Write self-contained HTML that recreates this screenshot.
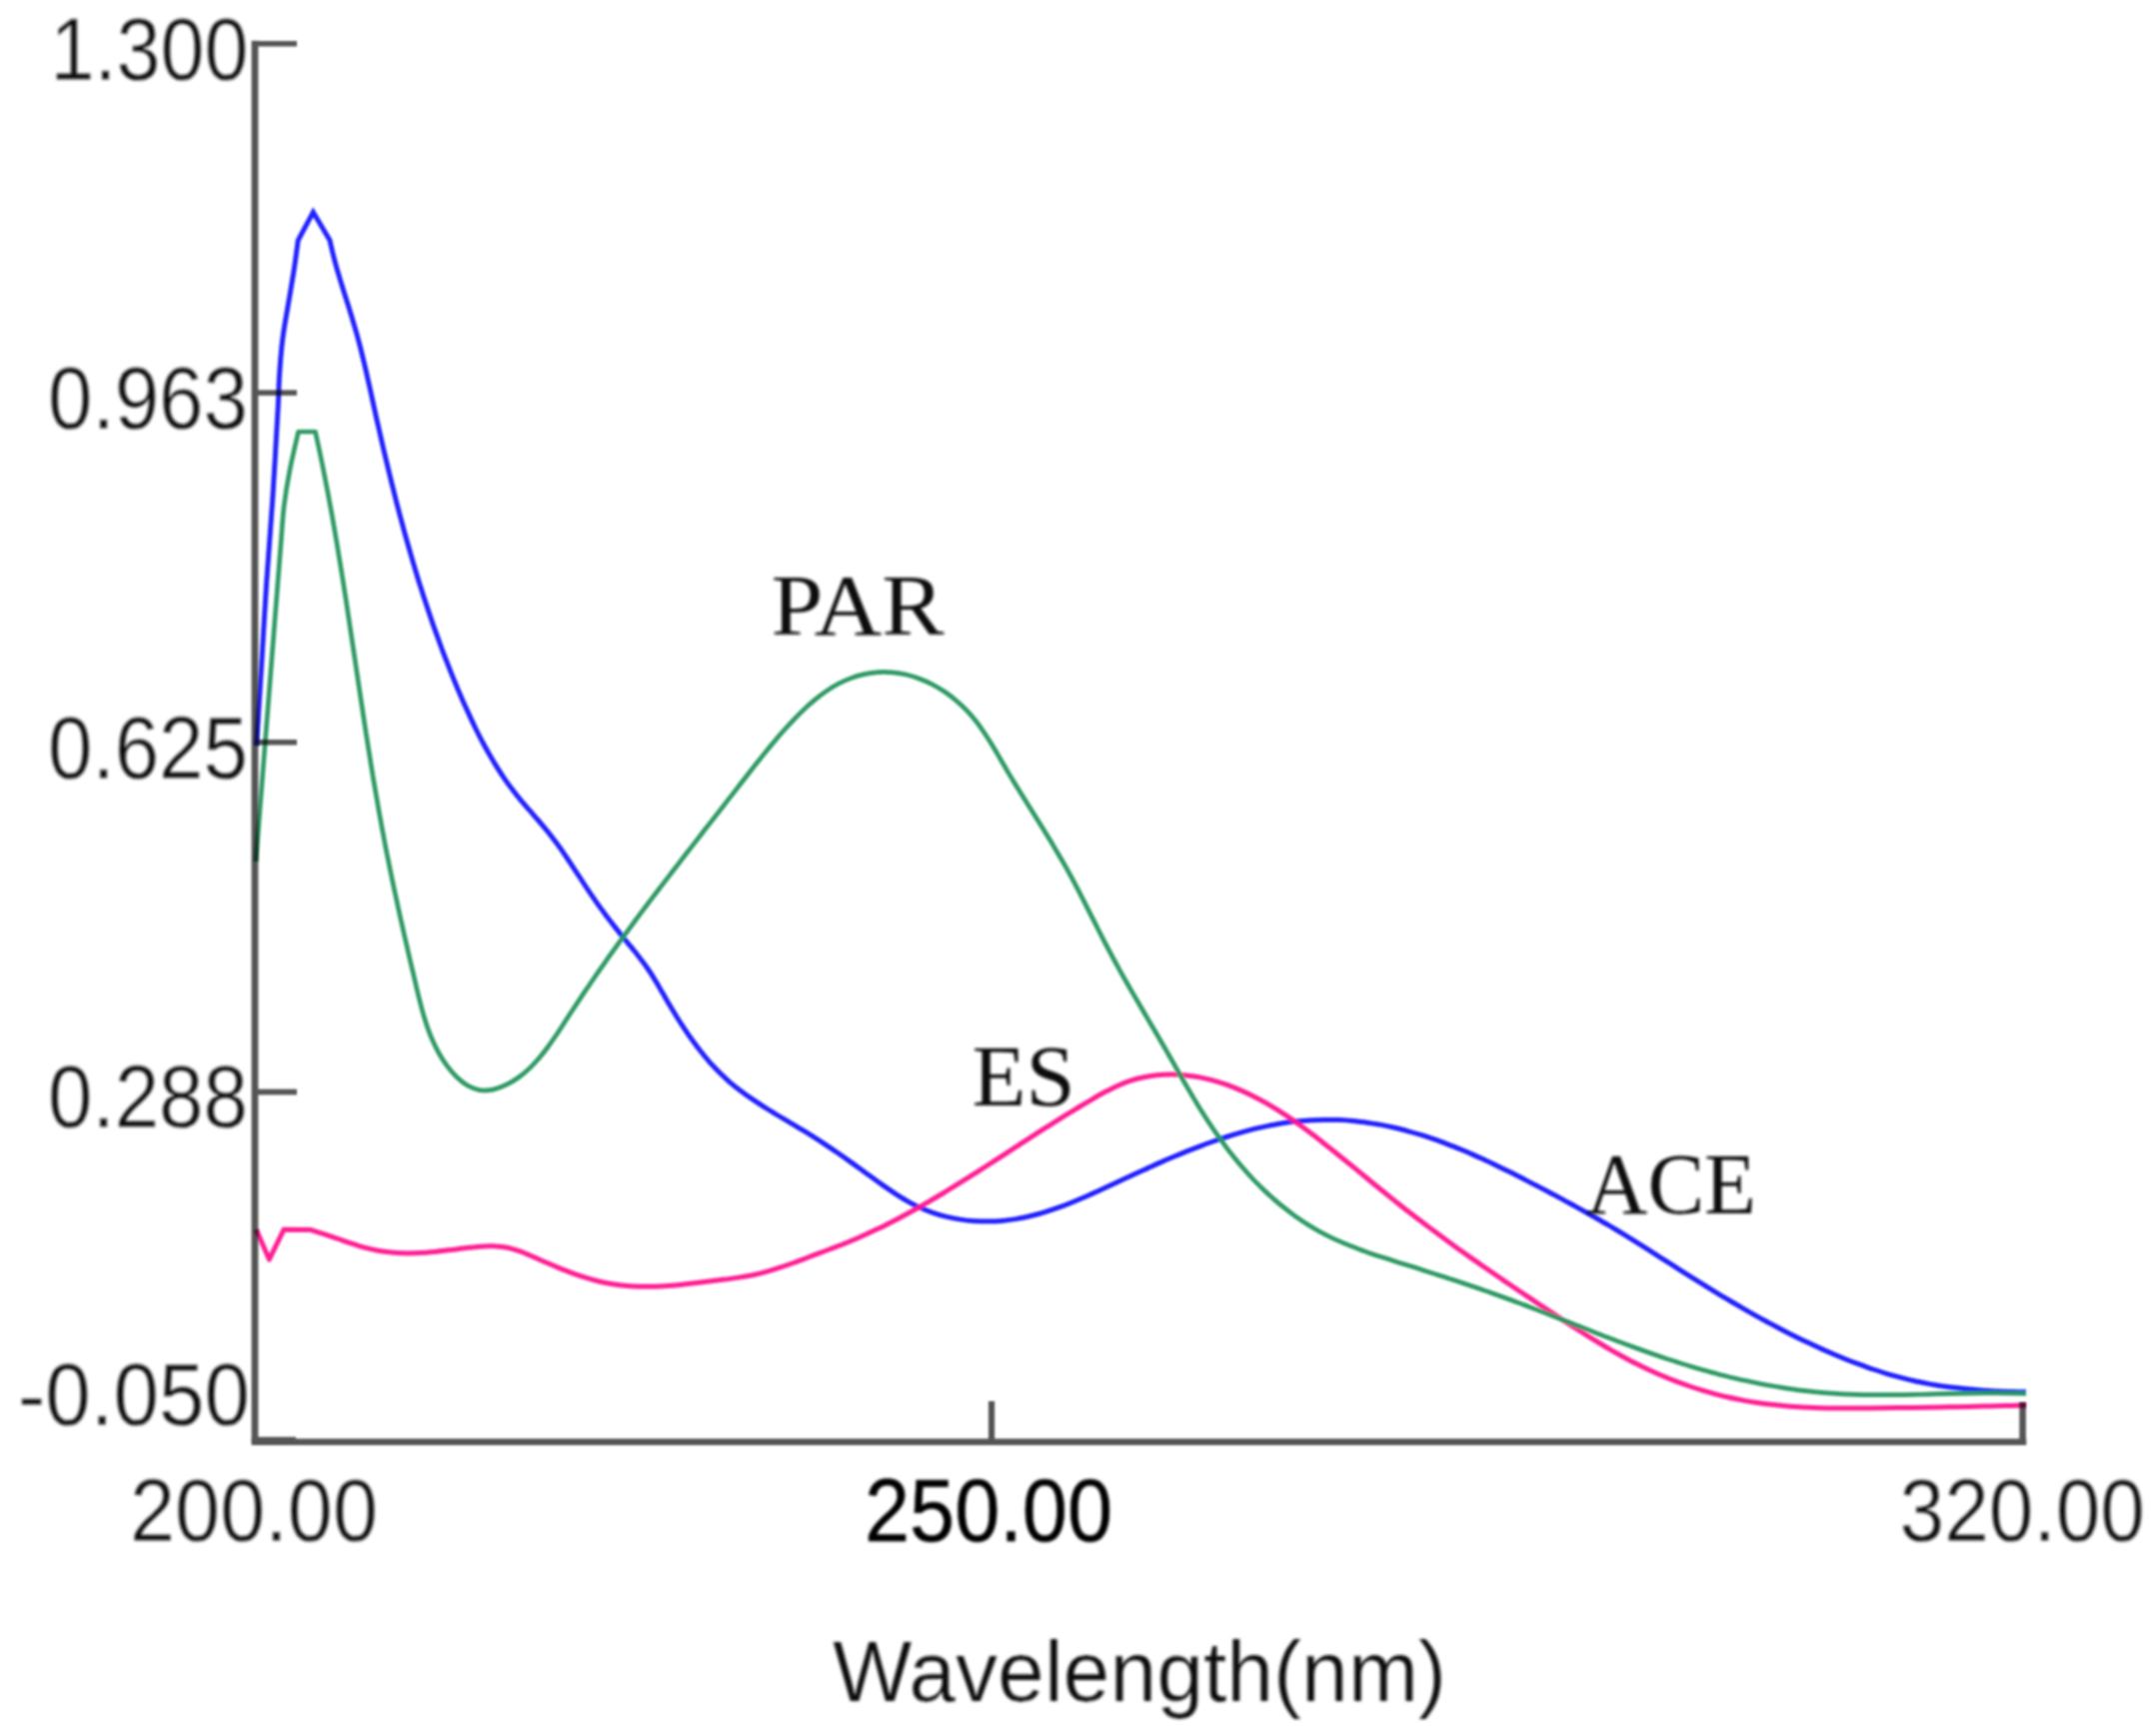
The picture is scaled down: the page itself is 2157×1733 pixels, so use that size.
<!DOCTYPE html>
<html lang="en"><head><meta charset="utf-8"><title>UV absorption spectra</title>
<style>html,body{margin:0;padding:0;background:#fff;}body{width:2157px;height:1733px;overflow:hidden;}svg{display:block;}</style></head>
<body>
<svg width="2157" height="1733" viewBox="0 0 2157 1733">
<defs><filter id="bt" x="-5%" y="-5%" width="110%" height="110%"><feGaussianBlur stdDeviation="1.35"/></filter><filter id="ba" x="-5%" y="-5%" width="110%" height="110%"><feGaussianBlur stdDeviation="1.15"/></filter><filter id="bc" x="-5%" y="-5%" width="110%" height="110%"><feGaussianBlur stdDeviation="1.1"/></filter></defs>
<rect width="2157" height="1733" fill="#fff"/>
<g filter="url(#bt)">
<text x="50.5" y="79.5" font-size="88.5" font-family="Liberation Sans, Arial, sans-serif" text-anchor="start" fill="#101010" textLength="198" lengthAdjust="spacingAndGlyphs" stroke="#fff" stroke-width="0.35" stroke-linejoin="round">1.300</text>
<text x="48" y="429" font-size="88.5" font-family="Liberation Sans, Arial, sans-serif" text-anchor="start" fill="#101010" textLength="200" lengthAdjust="spacingAndGlyphs" stroke="#fff" stroke-width="0.35" stroke-linejoin="round">0.963</text>
<text x="48" y="778.5" font-size="88.5" font-family="Liberation Sans, Arial, sans-serif" text-anchor="start" fill="#101010" textLength="200" lengthAdjust="spacingAndGlyphs" stroke="#fff" stroke-width="0.35" stroke-linejoin="round">0.625</text>
<text x="48" y="1127.5" font-size="88.5" font-family="Liberation Sans, Arial, sans-serif" text-anchor="start" fill="#101010" textLength="200" lengthAdjust="spacingAndGlyphs" stroke="#fff" stroke-width="0.35" stroke-linejoin="round">0.288</text>
<text x="18" y="1425.5" font-size="88.5" font-family="Liberation Sans, Arial, sans-serif" text-anchor="start" fill="#101010" textLength="232" lengthAdjust="spacingAndGlyphs" stroke="#fff" stroke-width="0.35" stroke-linejoin="round">-0.050</text>
<text x="130" y="1541.5" font-size="88.5" font-family="Liberation Sans, Arial, sans-serif" text-anchor="start" fill="#101010" textLength="248" lengthAdjust="spacingAndGlyphs" stroke="#fff" stroke-width="0.35" stroke-linejoin="round">200.00</text>
<text x="865" y="1541.5" font-size="88.5" font-family="Liberation Sans, Arial, sans-serif" text-anchor="start" fill="#000" textLength="248" lengthAdjust="spacingAndGlyphs" stroke="#000" stroke-width="0.5">250.00</text>
<text x="1900.5" y="1541.5" font-size="88.5" font-family="Liberation Sans, Arial, sans-serif" text-anchor="start" fill="#101010" textLength="245.5" lengthAdjust="spacingAndGlyphs" stroke="#fff" stroke-width="0.35" stroke-linejoin="round">320.00</text>
<text x="833" y="1701.5" font-size="84.5" font-family="Liberation Sans, Arial, sans-serif" text-anchor="start" fill="#111" textLength="614" lengthAdjust="spacingAndGlyphs" stroke="#fff" stroke-width="0.2">Wavelength(nm)</text>
<text x="771.5" y="634.5" font-size="87" font-family="Liberation Serif, Times New Roman, serif" text-anchor="start" fill="#111" textLength="173" lengthAdjust="spacingAndGlyphs">PAR</text>
<text x="972.5" y="1105.5" font-size="87" font-family="Liberation Serif, Times New Roman, serif" text-anchor="start" fill="#111" textLength="103" lengthAdjust="spacingAndGlyphs">ES</text>
<text x="1587" y="1213.5" font-size="87" font-family="Liberation Serif, Times New Roman, serif" text-anchor="start" fill="#111" textLength="170" lengthAdjust="spacingAndGlyphs">ACE</text>
</g>
<g filter="url(#ba)" stroke="#555555" stroke-width="5.6" fill="none" stroke-linecap="butt">
<path d="M255 40.8 V1443" stroke-width="6.8"/>
<path d="M251.6 1442.7 H2027.3" stroke-width="6.4"/>
<path d="M255 43.8 H297"/>
<path d="M255 393 H297"/>
<path d="M255 742.8 H297"/>
<path d="M255 1092.6 H297"/>
<path d="M255 1440.5 H296"/>
<path d="M992 1402 V1443" stroke-width="6.2"/>
<path d="M2023.6 1403 V1445.9" stroke-width="6.6"/>
</g>
<g filter="url(#bc)" style="mix-blend-mode:multiply">
<path d="M256.6 746.0 C257.5 731.7 260.3 687.0 262.0 660.0 C263.7 633.0 264.8 610.7 266.6 584.0 C268.4 557.3 270.8 529.5 272.7 500.0 C274.6 470.5 277.1 427.3 278.2 407.0 C279.3 386.7 278.7 389.1 279.4 378.0 C280.1 366.9 281.2 351.9 282.6 340.4 C284.0 328.9 285.7 320.5 287.6 309.0 C289.5 297.5 292.1 282.9 293.9 271.5 C295.7 260.1 297.5 245.7 298.2 240.5 L313.3 212.3 L330.0 240.5 C330.5 242.8 332.0 249.7 333.2 254.3 C334.3 258.9 335.6 263.4 336.8 268.0 C338.1 272.5 339.5 277.0 340.8 281.5 C342.2 286.1 343.6 290.6 345.0 295.1 C346.4 299.6 347.9 304.1 349.3 308.6 C350.7 313.2 352.1 317.7 353.4 322.2 C354.8 326.7 356.1 331.3 357.4 335.8 C358.6 340.4 359.8 344.9 361.0 349.5 C362.1 354.1 363.2 358.6 364.3 363.2 C365.4 367.8 366.5 372.4 367.5 377.0 C368.5 381.6 369.6 386.2 370.6 390.8 C371.6 395.4 372.6 400.0 373.6 404.6 C374.6 409.2 375.6 413.8 376.6 418.4 C377.7 423.0 378.7 427.6 379.8 432.2 C380.8 436.8 381.9 441.4 382.9 446.0 C384.0 450.7 385.1 455.3 386.2 459.8 C387.3 464.4 388.4 469.0 389.5 473.6 C390.6 478.2 391.7 482.8 392.9 487.4 C394.0 492.0 395.2 496.6 396.3 501.1 C397.5 505.7 398.7 510.3 399.9 514.9 C401.1 519.4 402.4 524.0 403.6 528.6 C404.8 533.1 406.1 537.7 407.4 542.2 C408.7 546.8 410.0 551.3 411.3 555.9 C412.6 560.4 413.9 564.9 415.3 569.4 C416.7 574.0 418.0 578.5 419.4 583.0 C420.9 587.5 422.3 592.0 423.7 596.5 C425.2 601.0 426.7 605.5 428.2 610.0 C429.7 614.4 431.2 618.9 432.7 623.4 C434.3 627.8 435.9 632.3 437.5 636.7 C439.1 641.2 440.7 645.6 442.3 650.0 C444.0 654.4 445.7 658.8 447.4 663.2 C449.1 667.6 450.9 672.0 452.6 676.4 C454.4 680.8 456.2 685.1 458.0 689.5 C459.9 693.8 461.7 698.2 463.6 702.5 C465.6 706.8 467.5 711.1 469.5 715.4 C471.4 719.7 473.5 724.0 475.5 728.2 C477.6 732.5 479.7 736.7 481.9 740.9 C484.1 745.0 486.3 749.2 488.7 753.3 C491.0 757.4 493.4 761.4 495.8 765.4 C498.3 769.4 500.8 773.4 503.5 777.3 C506.1 781.2 508.8 785.0 511.7 788.8 C514.5 792.6 517.4 796.3 520.4 799.9 C523.4 803.6 526.6 807.2 529.7 810.7 C532.8 814.3 536.0 817.9 539.1 821.5 C542.1 825.1 545.2 828.7 548.2 832.3 C551.2 836.0 554.0 839.8 556.8 843.6 C559.6 847.4 562.3 851.2 565.0 855.1 C567.6 859.0 570.2 863.0 572.8 866.9 C575.4 870.8 578.0 874.8 580.6 878.7 C583.2 882.7 585.7 886.7 588.4 890.6 C591.0 894.5 593.7 898.4 596.4 902.3 C599.1 906.1 601.9 909.9 604.7 913.7 C607.5 917.6 610.4 921.3 613.3 925.1 C616.2 928.8 619.1 932.5 622.1 936.2 C625.0 939.9 628.1 943.5 631.1 947.1 C634.0 950.8 637.1 954.4 639.9 958.2 C642.8 961.9 645.6 965.6 648.2 969.5 C650.9 973.4 653.4 977.3 655.8 981.4 C658.3 985.4 660.5 989.5 662.9 993.6 C665.3 997.6 667.6 1001.8 670.0 1005.8 C672.5 1009.9 674.9 1014.0 677.4 1018.0 C679.9 1022.0 682.5 1026.0 685.1 1029.9 C687.7 1033.9 690.4 1037.8 693.2 1041.6 C695.9 1045.4 698.8 1049.2 701.7 1052.8 C704.6 1056.5 707.6 1060.1 710.7 1063.6 C713.9 1067.1 717.1 1070.5 720.4 1073.8 C723.7 1077.0 727.2 1080.2 730.7 1083.3 C734.3 1086.3 738.0 1089.2 741.7 1092.0 C745.5 1094.9 749.3 1097.6 753.2 1100.2 C757.1 1102.9 761.1 1105.5 765.2 1108.0 C769.2 1110.6 773.3 1113.0 777.3 1115.5 C781.4 1118.0 785.6 1120.4 789.7 1122.9 C793.8 1125.3 797.9 1127.7 802.0 1130.2 C806.0 1132.6 810.1 1135.1 814.1 1137.6 C818.1 1140.1 822.1 1142.7 826.0 1145.3 C829.9 1147.9 833.8 1150.6 837.7 1153.3 C841.5 1155.9 845.3 1158.6 849.2 1161.4 C853.0 1164.1 856.8 1166.8 860.6 1169.6 C864.4 1172.3 868.2 1175.1 872.0 1177.8 C875.9 1180.6 879.7 1183.3 883.6 1186.1 C887.5 1188.8 891.4 1191.5 895.3 1194.1 C899.3 1196.7 903.3 1199.3 907.4 1201.6 C911.5 1203.9 915.7 1206.2 920.0 1208.1 C924.2 1210.1 928.6 1211.9 933.1 1213.4 C937.5 1215.0 942.0 1216.3 946.6 1217.4 C951.2 1218.5 955.8 1219.4 960.5 1220.1 C965.2 1220.9 969.9 1221.4 974.6 1221.7 C979.3 1222.0 984.1 1222.1 988.8 1222.1 C993.5 1222.0 998.3 1221.8 1003.0 1221.4 C1007.7 1220.9 1012.3 1220.3 1017.0 1219.6 C1021.6 1218.8 1026.2 1217.8 1030.7 1216.8 C1035.3 1215.7 1039.8 1214.5 1044.3 1213.1 C1048.8 1211.8 1053.2 1210.3 1057.7 1208.7 C1062.1 1207.2 1066.5 1205.5 1070.9 1203.7 C1075.3 1202.0 1079.6 1200.2 1084.0 1198.3 C1088.3 1196.4 1092.7 1194.5 1097.0 1192.5 C1101.3 1190.5 1105.6 1188.5 1109.9 1186.5 C1114.2 1184.5 1118.5 1182.5 1122.8 1180.5 C1127.1 1178.5 1131.4 1176.5 1135.7 1174.5 C1140.0 1172.5 1144.3 1170.6 1148.7 1168.6 C1153.0 1166.7 1157.3 1164.7 1161.6 1162.9 C1165.9 1161.0 1170.2 1159.1 1174.6 1157.3 C1178.9 1155.5 1183.3 1153.7 1187.6 1151.9 C1192.0 1150.2 1196.4 1148.5 1200.8 1146.8 C1205.2 1145.1 1209.6 1143.5 1214.0 1142.0 C1218.4 1140.4 1222.9 1138.9 1227.4 1137.5 C1231.8 1136.1 1236.3 1134.7 1240.9 1133.4 C1245.4 1132.1 1249.9 1130.9 1254.5 1129.7 C1259.1 1128.6 1263.7 1127.5 1268.3 1126.6 C1272.9 1125.6 1277.5 1124.8 1282.2 1124.0 C1286.9 1123.3 1291.6 1122.7 1296.3 1122.1 C1301.0 1121.6 1305.8 1121.2 1310.5 1120.9 C1315.3 1120.6 1320.0 1120.5 1324.8 1120.4 C1329.6 1120.4 1334.3 1120.4 1339.1 1120.6 C1343.8 1120.8 1348.5 1121.1 1353.2 1121.5 C1358.0 1122.0 1362.6 1122.5 1367.3 1123.2 C1371.9 1123.8 1376.6 1124.6 1381.2 1125.4 C1385.8 1126.3 1390.4 1127.3 1394.9 1128.3 C1399.5 1129.4 1404.1 1130.5 1408.6 1131.8 C1413.1 1133.0 1417.6 1134.3 1422.1 1135.7 C1426.6 1137.1 1431.0 1138.6 1435.5 1140.2 C1439.9 1141.7 1444.3 1143.4 1448.7 1145.1 C1453.1 1146.7 1457.5 1148.5 1461.9 1150.3 C1466.3 1152.1 1470.6 1154.0 1474.9 1155.9 C1479.3 1157.8 1483.6 1159.8 1487.9 1161.7 C1492.2 1163.7 1496.5 1165.8 1500.8 1167.9 C1505.0 1169.9 1509.3 1172.0 1513.5 1174.1 C1517.8 1176.3 1522.0 1178.4 1526.2 1180.6 C1530.4 1182.7 1534.6 1184.9 1538.8 1187.1 C1543.0 1189.3 1547.2 1191.5 1551.4 1193.7 C1555.5 1195.9 1559.7 1198.1 1563.8 1200.4 C1568.0 1202.6 1572.1 1204.9 1576.2 1207.1 C1580.4 1209.4 1584.5 1211.7 1588.6 1214.0 C1592.7 1216.3 1596.7 1218.6 1600.8 1221.0 C1604.9 1223.3 1608.9 1225.7 1613.0 1228.1 C1617.0 1230.5 1621.1 1233.0 1625.1 1235.4 C1629.1 1237.9 1633.1 1240.4 1637.1 1242.9 C1641.1 1245.4 1645.1 1247.9 1649.1 1250.4 C1653.1 1253.0 1657.1 1255.5 1661.0 1258.1 C1665.0 1260.6 1669.0 1263.2 1673.0 1265.7 C1677.0 1268.3 1681.0 1270.8 1685.0 1273.4 C1688.9 1275.9 1692.9 1278.4 1697.0 1280.9 C1701.0 1283.4 1705.0 1285.9 1709.0 1288.4 C1713.0 1290.9 1717.1 1293.3 1721.1 1295.8 C1725.2 1298.2 1729.2 1300.6 1733.3 1303.0 C1737.4 1305.4 1741.4 1307.8 1745.5 1310.1 C1749.6 1312.5 1753.7 1314.8 1757.9 1317.1 C1762.0 1319.4 1766.1 1321.6 1770.3 1323.9 C1774.4 1326.1 1778.6 1328.3 1782.8 1330.5 C1787.0 1332.7 1791.2 1334.8 1795.4 1336.9 C1799.6 1339.0 1803.9 1341.1 1808.1 1343.1 C1812.4 1345.1 1816.7 1347.1 1821.0 1349.1 C1825.3 1351.0 1829.6 1352.9 1834.0 1354.8 C1838.3 1356.6 1842.7 1358.4 1847.1 1360.2 C1851.4 1361.9 1855.9 1363.6 1860.3 1365.2 C1864.7 1366.9 1869.2 1368.4 1873.6 1370.0 C1878.1 1371.5 1882.6 1372.9 1887.1 1374.3 C1891.6 1375.6 1896.1 1376.9 1900.7 1378.1 C1905.2 1379.3 1909.8 1380.5 1914.4 1381.5 C1919.0 1382.6 1923.6 1383.5 1928.3 1384.4 C1932.9 1385.3 1937.6 1386.0 1942.2 1386.8 C1946.9 1387.5 1951.6 1388.1 1956.3 1388.6 C1961.0 1389.2 1965.7 1389.7 1970.4 1390.1 C1975.1 1390.5 1979.9 1390.9 1984.6 1391.2 C1989.3 1391.5 1994.0 1391.8 1998.8 1392.0 C2003.5 1392.2 2008.2 1392.4 2012.9 1392.5 C2017.6 1392.7 2024.6 1392.8 2027.0 1392.8" fill="none" stroke="#2424ff" stroke-width="5.0" stroke-linejoin="miter"/>
<path d="M256.3 1230.3 L269.4 1260.2 L283.9 1230.3 L311.0 1230.6 C313.2 1231.3 319.8 1233.4 324.3 1234.8 C328.8 1236.3 333.2 1237.9 337.8 1239.4 C342.3 1240.9 346.8 1242.6 351.4 1244.1 C356.0 1245.5 360.6 1247.0 365.2 1248.3 C369.8 1249.5 374.4 1250.6 379.1 1251.5 C383.7 1252.3 388.4 1252.9 393.1 1253.3 C397.7 1253.7 402.4 1253.9 407.1 1253.9 C411.8 1253.9 416.5 1253.7 421.2 1253.5 C425.9 1253.2 430.6 1252.8 435.3 1252.4 C440.0 1251.9 444.7 1251.4 449.4 1250.8 C454.2 1250.3 458.9 1249.6 463.6 1249.1 C468.4 1248.5 473.1 1247.8 477.8 1247.4 C482.5 1247.0 487.2 1246.7 491.8 1246.7 C496.5 1246.8 501.1 1247.1 505.6 1248.0 C510.2 1248.8 514.6 1250.2 519.0 1251.7 C523.5 1253.2 527.8 1255.1 532.2 1257.0 C536.6 1258.9 541.0 1260.9 545.3 1262.8 C549.7 1264.7 554.1 1266.6 558.5 1268.4 C562.9 1270.2 567.3 1272.0 571.8 1273.6 C576.2 1275.2 580.7 1276.8 585.2 1278.2 C589.7 1279.6 594.2 1280.9 598.7 1282.0 C603.3 1283.1 607.8 1284.0 612.4 1284.8 C617.0 1285.6 621.7 1286.2 626.4 1286.6 C631.0 1287.0 635.8 1287.2 640.5 1287.3 C645.2 1287.4 650.0 1287.4 654.7 1287.2 C659.5 1287.1 664.3 1286.8 669.0 1286.4 C673.8 1286.1 678.6 1285.7 683.3 1285.2 C688.1 1284.7 692.9 1284.1 697.6 1283.6 C702.4 1283.0 707.1 1282.4 711.8 1281.8 C716.5 1281.2 721.2 1280.7 725.8 1280.1 C730.5 1279.4 735.1 1278.9 739.7 1278.1 C744.3 1277.4 748.9 1276.6 753.5 1275.7 C758.0 1274.7 762.6 1273.6 767.1 1272.4 C771.6 1271.1 776.1 1269.7 780.6 1268.2 C785.1 1266.7 789.6 1265.1 794.1 1263.5 C798.6 1261.9 803.0 1260.2 807.5 1258.5 C812.0 1256.8 816.4 1255.1 820.9 1253.4 C825.4 1251.8 829.8 1250.1 834.3 1248.4 C838.7 1246.7 843.1 1245.0 847.5 1243.2 C851.9 1241.4 856.2 1239.6 860.6 1237.7 C864.9 1235.8 869.2 1233.8 873.5 1231.8 C877.7 1229.8 882.0 1227.8 886.2 1225.7 C890.4 1223.6 894.6 1221.4 898.8 1219.2 C903.0 1217.0 907.1 1214.8 911.3 1212.5 C915.4 1210.2 919.5 1207.9 923.6 1205.6 C927.7 1203.2 931.8 1200.9 935.8 1198.5 C939.9 1196.1 944.0 1193.6 948.0 1191.2 C952.0 1188.7 956.1 1186.2 960.1 1183.7 C964.1 1181.2 968.1 1178.7 972.1 1176.2 C976.1 1173.6 980.1 1171.1 984.1 1168.5 C988.0 1166.0 992.0 1163.4 996.0 1160.8 C1000.0 1158.3 1003.9 1155.7 1007.9 1153.1 C1011.9 1150.5 1015.9 1147.9 1019.8 1145.3 C1023.8 1142.8 1027.8 1140.2 1031.8 1137.6 C1035.7 1135.1 1039.7 1132.5 1043.7 1129.9 C1047.7 1127.4 1051.7 1124.9 1055.7 1122.3 C1059.7 1119.8 1063.7 1117.3 1067.7 1114.8 C1071.8 1112.4 1075.8 1109.9 1079.8 1107.5 C1083.9 1105.0 1088.0 1102.6 1092.0 1100.3 C1096.1 1097.9 1100.2 1095.5 1104.3 1093.3 C1108.5 1091.1 1112.6 1088.9 1116.9 1086.9 C1121.2 1085.0 1125.5 1083.2 1130.0 1081.7 C1134.4 1080.2 1139.0 1078.9 1143.6 1078.0 C1148.2 1077.0 1152.9 1076.3 1157.6 1075.8 C1162.3 1075.3 1167.1 1075.1 1171.8 1075.1 C1176.6 1075.2 1181.3 1075.4 1186.0 1075.9 C1190.7 1076.3 1195.4 1077.0 1200.0 1077.9 C1204.6 1078.8 1209.3 1079.9 1213.8 1081.1 C1218.4 1082.4 1222.9 1083.8 1227.4 1085.4 C1231.8 1087.0 1236.3 1088.8 1240.6 1090.6 C1245.0 1092.5 1249.3 1094.5 1253.6 1096.7 C1257.8 1098.8 1262.0 1101.0 1266.2 1103.4 C1270.3 1105.7 1274.3 1108.2 1278.3 1110.7 C1282.3 1113.2 1286.2 1115.8 1290.1 1118.4 C1294.0 1121.1 1297.8 1123.8 1301.6 1126.6 C1305.5 1129.4 1309.2 1132.2 1313.0 1135.1 C1316.7 1137.9 1320.4 1140.8 1324.1 1143.7 C1327.8 1146.6 1331.5 1149.6 1335.2 1152.5 C1338.9 1155.5 1342.6 1158.5 1346.3 1161.5 C1349.9 1164.4 1353.6 1167.4 1357.3 1170.4 C1360.9 1173.4 1364.6 1176.4 1368.3 1179.5 C1371.9 1182.5 1375.6 1185.5 1379.3 1188.5 C1382.9 1191.4 1386.6 1194.4 1390.3 1197.4 C1394.0 1200.4 1397.7 1203.3 1401.4 1206.3 C1405.1 1209.2 1408.9 1212.1 1412.6 1215.0 C1416.3 1217.9 1420.1 1220.8 1423.9 1223.6 C1427.6 1226.5 1431.4 1229.3 1435.2 1232.1 C1439.0 1235.0 1442.8 1237.8 1446.6 1240.5 C1450.4 1243.3 1454.3 1246.1 1458.1 1248.9 C1461.9 1251.6 1465.8 1254.4 1469.6 1257.1 C1473.5 1259.8 1477.4 1262.5 1481.2 1265.2 C1485.1 1267.9 1489.0 1270.6 1492.9 1273.3 C1496.8 1276.0 1500.7 1278.7 1504.6 1281.3 C1508.5 1284.0 1512.4 1286.6 1516.3 1289.3 C1520.2 1291.9 1524.2 1294.6 1528.1 1297.2 C1532.0 1299.8 1536.0 1302.5 1539.9 1305.1 C1543.9 1307.7 1547.8 1310.3 1551.7 1312.9 C1555.7 1315.6 1559.6 1318.2 1563.6 1320.8 C1567.6 1323.3 1571.5 1325.9 1575.5 1328.5 C1579.5 1331.1 1583.5 1333.6 1587.5 1336.1 C1591.5 1338.6 1595.6 1341.1 1599.6 1343.5 C1603.7 1346.0 1607.7 1348.4 1611.8 1350.8 C1615.9 1353.1 1620.0 1355.4 1624.2 1357.7 C1628.3 1359.9 1632.5 1362.2 1636.7 1364.3 C1640.9 1366.4 1645.1 1368.5 1649.4 1370.5 C1653.7 1372.5 1658.0 1374.5 1662.4 1376.3 C1666.7 1378.2 1671.1 1380.0 1675.5 1381.7 C1679.9 1383.4 1684.4 1385.0 1688.9 1386.5 C1693.4 1388.1 1697.9 1389.6 1702.4 1390.9 C1706.9 1392.3 1711.5 1393.6 1716.1 1394.8 C1720.6 1396.1 1725.2 1397.2 1729.9 1398.2 C1734.5 1399.3 1739.1 1400.2 1743.8 1401.1 C1748.4 1402.0 1753.1 1402.8 1757.7 1403.5 C1762.4 1404.2 1767.1 1404.8 1771.8 1405.3 C1776.4 1405.9 1781.1 1406.3 1785.8 1406.7 C1790.5 1407.2 1795.3 1407.5 1800.0 1407.8 C1804.7 1408.1 1809.4 1408.3 1814.1 1408.5 C1818.9 1408.7 1823.6 1408.8 1828.3 1408.9 C1833.1 1409.0 1837.8 1409.0 1842.6 1409.1 C1847.3 1409.1 1852.0 1409.1 1856.8 1409.1 C1861.5 1409.1 1866.3 1409.0 1871.0 1409.0 C1875.7 1408.9 1880.5 1408.8 1885.2 1408.8 C1890.0 1408.7 1894.7 1408.7 1899.4 1408.6 C1904.1 1408.5 1908.9 1408.5 1913.6 1408.4 C1918.3 1408.3 1923.0 1408.3 1927.8 1408.2 C1932.5 1408.1 1937.2 1408.0 1941.9 1408.0 C1946.6 1407.9 1951.4 1407.8 1956.1 1407.7 C1960.8 1407.6 1965.5 1407.5 1970.2 1407.4 C1975.0 1407.3 1979.7 1407.2 1984.4 1407.1 C1989.1 1407.0 1993.9 1406.9 1998.6 1406.8 C2003.3 1406.7 2008.1 1406.5 2012.8 1406.4 C2017.5 1406.2 2024.6 1406.0 2027.0 1405.9" fill="none" stroke="#ff1690" stroke-width="5.0" stroke-linejoin="round" opacity="0.96"/>
<path d="M255.9 862.0 L281.5 538.0 C281.9 532.7 282.8 517.3 284.2 506.0 C285.6 494.7 287.6 482.3 290.0 470.0 C292.4 457.7 297.1 438.3 298.5 432.0 L315.5 432.0 C316.0 434.3 317.5 441.2 318.5 445.8 C319.5 450.4 320.5 455.0 321.4 459.6 C322.4 464.2 323.3 468.8 324.2 473.5 C325.1 478.1 326.0 482.7 326.9 487.3 C327.8 491.9 328.7 496.6 329.5 501.2 C330.4 505.8 331.2 510.4 332.1 515.1 C332.9 519.7 333.7 524.3 334.5 529.0 C335.3 533.6 336.1 538.3 336.9 542.9 C337.7 547.5 338.4 552.2 339.2 556.8 C340.0 561.5 340.7 566.1 341.5 570.8 C342.2 575.4 343.0 580.1 343.7 584.7 C344.4 589.4 345.1 594.0 345.9 598.7 C346.6 603.4 347.3 608.0 348.0 612.7 C348.7 617.3 349.4 622.0 350.1 626.7 C350.8 631.3 351.5 636.0 352.2 640.6 C352.9 645.3 353.6 650.0 354.3 654.6 C355.0 659.3 355.7 663.9 356.4 668.6 C357.1 673.3 357.8 677.9 358.5 682.6 C359.2 687.2 359.9 691.9 360.6 696.6 C361.3 701.2 362.0 705.9 362.7 710.5 C363.4 715.2 364.1 719.9 364.8 724.5 C365.5 729.2 366.2 733.8 367.0 738.5 C367.7 743.1 368.4 747.8 369.2 752.4 C369.9 757.1 370.7 761.7 371.4 766.4 C372.2 771.0 372.9 775.7 373.7 780.3 C374.5 784.9 375.3 789.6 376.1 794.2 C376.9 798.8 377.7 803.5 378.5 808.1 C379.3 812.7 380.2 817.4 381.0 822.0 C381.8 826.6 382.7 831.2 383.6 835.9 C384.4 840.5 385.3 845.1 386.2 849.7 C387.1 854.3 388.1 858.9 389.0 863.5 C389.9 868.1 390.9 872.8 391.8 877.4 C392.8 882.0 393.7 886.6 394.7 891.2 C395.7 895.8 396.7 900.4 397.7 905.0 C398.7 909.5 399.7 914.1 400.7 918.7 C401.7 923.3 402.8 927.9 403.8 932.5 C404.8 937.1 405.9 941.7 407.0 946.3 C408.0 950.9 409.1 955.5 410.1 960.1 C411.2 964.7 412.3 969.3 413.4 973.9 C414.5 978.5 415.5 983.1 416.6 987.7 C417.7 992.3 418.8 996.9 420.0 1001.5 C421.1 1006.0 422.3 1010.6 423.6 1015.1 C425.0 1019.7 426.3 1024.2 427.9 1028.6 C429.5 1033.1 431.2 1037.5 433.1 1041.8 C435.1 1046.1 437.1 1050.4 439.5 1054.5 C441.9 1058.7 444.5 1062.8 447.4 1066.7 C450.3 1070.6 453.5 1074.5 457.0 1077.8 C460.4 1081.0 464.1 1084.1 468.0 1086.3 C471.9 1088.5 476.0 1090.2 480.3 1090.8 C484.6 1091.5 489.2 1091.0 493.7 1090.1 C498.1 1089.2 502.7 1087.2 506.9 1085.2 C511.1 1083.2 515.1 1080.7 518.9 1078.0 C522.6 1075.4 526.2 1072.3 529.6 1069.1 C533.0 1065.9 536.2 1062.4 539.3 1058.8 C542.4 1055.2 545.3 1051.4 548.2 1047.5 C551.1 1043.6 553.8 1039.6 556.6 1035.5 C559.3 1031.5 561.9 1027.4 564.6 1023.3 C567.2 1019.3 569.8 1015.2 572.4 1011.2 C575.1 1007.2 577.7 1003.3 580.3 999.4 C582.9 995.4 585.5 991.5 588.2 987.7 C590.8 983.8 593.4 980.0 596.0 976.2 C598.7 972.3 601.3 968.6 604.0 964.8 C606.6 961.0 609.3 957.2 612.0 953.4 C614.7 949.7 617.4 945.9 620.1 942.1 C622.9 938.4 625.6 934.6 628.4 930.8 C631.1 927.1 633.9 923.3 636.7 919.5 C639.5 915.8 642.4 912.0 645.2 908.2 C648.0 904.5 650.9 900.7 653.7 896.9 C656.6 893.2 659.4 889.4 662.3 885.6 C665.2 881.9 668.1 878.1 671.0 874.3 C673.9 870.6 676.8 866.8 679.7 863.1 C682.6 859.3 685.5 855.5 688.4 851.8 C691.3 848.0 694.2 844.3 697.1 840.6 C700.0 836.8 702.9 833.1 705.8 829.3 C708.8 825.6 711.7 821.9 714.6 818.1 C717.5 814.4 720.4 810.7 723.3 807.0 C726.1 803.3 729.0 799.6 731.9 795.9 C734.8 792.2 737.6 788.5 740.5 784.8 C743.4 781.1 746.2 777.4 749.1 773.7 C751.9 770.1 754.8 766.4 757.7 762.8 C760.6 759.1 763.5 755.5 766.4 751.9 C769.4 748.2 772.3 744.6 775.4 741.1 C778.4 737.5 781.5 733.9 784.7 730.3 C787.9 726.8 791.1 723.2 794.4 719.8 C797.7 716.3 801.1 712.9 804.6 709.6 C808.0 706.3 811.6 703.1 815.3 700.1 C818.9 697.1 822.7 694.2 826.6 691.6 C830.4 689.0 834.4 686.5 838.5 684.3 C842.6 682.1 846.8 680.2 851.2 678.6 C855.5 676.9 860.0 675.6 864.6 674.6 C869.2 673.6 873.9 672.9 878.6 672.6 C883.3 672.3 888.1 672.4 892.8 672.8 C897.5 673.2 902.1 674.0 906.7 675.0 C911.3 676.1 915.8 677.5 920.2 679.2 C924.6 680.8 928.9 682.8 933.1 685.0 C937.3 687.2 941.4 689.7 945.3 692.3 C949.2 695.0 953.0 697.9 956.6 701.0 C960.2 704.0 963.7 707.3 967.0 710.7 C970.2 714.1 973.3 717.7 976.2 721.3 C979.1 725.0 981.8 728.8 984.4 732.7 C987.0 736.5 989.5 740.5 992.0 744.5 C994.4 748.5 996.8 752.6 999.2 756.6 C1001.5 760.7 1003.9 764.8 1006.3 768.8 C1008.6 772.9 1011.1 776.9 1013.5 781.0 C1015.9 785.0 1018.4 789.0 1020.9 793.0 C1023.4 797.0 1025.9 801.0 1028.4 805.0 C1030.9 809.0 1033.4 813.0 1035.9 817.0 C1038.4 821.0 1040.9 825.0 1043.4 829.0 C1045.8 833.0 1048.3 837.0 1050.8 841.0 C1053.2 845.1 1055.6 849.1 1058.0 853.2 C1060.4 857.2 1062.8 861.3 1065.1 865.4 C1067.4 869.5 1069.7 873.6 1071.9 877.7 C1074.1 881.9 1076.3 886.1 1078.5 890.2 C1080.7 894.4 1082.8 898.6 1085.0 902.8 C1087.1 907.0 1089.2 911.2 1091.3 915.4 C1093.5 919.6 1095.6 923.8 1097.7 928.0 C1099.8 932.2 1102.0 936.4 1104.1 940.6 C1106.3 944.8 1108.4 949.0 1110.7 953.1 C1112.9 957.3 1115.1 961.4 1117.4 965.5 C1119.6 969.7 1121.9 973.8 1124.2 977.9 C1126.5 982.0 1128.9 986.0 1131.2 990.1 C1133.6 994.2 1135.9 998.3 1138.3 1002.3 C1140.7 1006.4 1143.1 1010.5 1145.4 1014.5 C1147.8 1018.6 1150.2 1022.6 1152.6 1026.7 C1155.0 1030.7 1157.4 1034.8 1159.7 1038.9 C1162.1 1043.0 1164.5 1047.0 1166.8 1051.1 C1169.1 1055.2 1171.5 1059.3 1173.8 1063.4 C1176.1 1067.5 1178.4 1071.6 1180.8 1075.7 C1183.1 1079.8 1185.4 1083.9 1187.8 1087.9 C1190.2 1092.0 1192.6 1096.1 1195.0 1100.1 C1197.4 1104.1 1199.9 1108.2 1202.4 1112.2 C1204.9 1116.1 1207.4 1120.1 1210.0 1124.0 C1212.6 1127.9 1215.2 1131.8 1218.0 1135.7 C1220.7 1139.5 1223.4 1143.3 1226.2 1147.1 C1229.0 1150.9 1231.9 1154.6 1234.9 1158.2 C1237.8 1161.9 1240.8 1165.5 1243.9 1169.0 C1247.0 1172.6 1250.1 1176.1 1253.3 1179.5 C1256.6 1182.9 1259.9 1186.2 1263.2 1189.5 C1266.6 1192.8 1270.1 1196.0 1273.6 1199.1 C1277.2 1202.2 1280.8 1205.3 1284.5 1208.2 C1288.2 1211.2 1292.0 1214.1 1295.8 1216.8 C1299.7 1219.5 1303.6 1222.2 1307.6 1224.7 C1311.6 1227.3 1315.6 1229.7 1319.7 1232.0 C1323.8 1234.3 1328.0 1236.4 1332.3 1238.5 C1336.5 1240.5 1340.8 1242.4 1345.1 1244.2 C1349.4 1246.0 1353.8 1247.7 1358.2 1249.4 C1362.6 1251.1 1367.0 1252.6 1371.4 1254.2 C1375.9 1255.7 1380.4 1257.1 1384.9 1258.6 C1389.3 1260.1 1393.8 1261.5 1398.3 1262.9 C1402.8 1264.3 1407.3 1265.7 1411.8 1267.1 C1416.3 1268.6 1420.8 1270.0 1425.3 1271.4 C1429.7 1272.8 1434.2 1274.3 1438.7 1275.7 C1443.2 1277.2 1447.7 1278.6 1452.1 1280.1 C1456.6 1281.5 1461.1 1283.0 1465.5 1284.5 C1470.0 1286.0 1474.4 1287.5 1478.9 1289.0 C1483.3 1290.6 1487.8 1292.1 1492.2 1293.7 C1496.6 1295.2 1501.1 1296.8 1505.5 1298.5 C1509.9 1300.1 1514.3 1301.7 1518.7 1303.4 C1523.1 1305.0 1527.5 1306.7 1531.9 1308.4 C1536.3 1310.0 1540.7 1311.7 1545.1 1313.4 C1549.5 1315.1 1553.9 1316.9 1558.3 1318.6 C1562.6 1320.3 1567.0 1322.0 1571.4 1323.7 C1575.8 1325.5 1580.2 1327.2 1584.6 1328.9 C1589.0 1330.6 1593.3 1332.3 1597.7 1334.1 C1602.1 1335.8 1606.5 1337.5 1610.9 1339.1 C1615.3 1340.8 1619.7 1342.5 1624.1 1344.1 C1628.6 1345.8 1633.0 1347.4 1637.4 1349.0 C1641.8 1350.6 1646.2 1352.2 1650.7 1353.8 C1655.1 1355.4 1659.6 1356.9 1664.0 1358.4 C1668.5 1359.9 1673.0 1361.4 1677.5 1362.8 C1681.9 1364.2 1686.4 1365.7 1690.9 1367.0 C1695.5 1368.4 1700.0 1369.7 1704.5 1371.0 C1709.0 1372.3 1713.6 1373.5 1718.1 1374.7 C1722.7 1375.9 1727.3 1377.0 1731.8 1378.2 C1736.4 1379.3 1741.0 1380.3 1745.6 1381.3 C1750.2 1382.4 1754.8 1383.3 1759.4 1384.2 C1764.0 1385.1 1768.7 1386.0 1773.3 1386.8 C1777.9 1387.6 1782.6 1388.4 1787.2 1389.1 C1791.9 1389.8 1796.5 1390.5 1801.2 1391.1 C1805.9 1391.6 1810.5 1392.2 1815.2 1392.7 C1819.9 1393.1 1824.6 1393.6 1829.2 1393.9 C1833.9 1394.3 1838.6 1394.6 1843.3 1394.8 C1848.0 1395.0 1852.7 1395.2 1857.4 1395.4 C1862.1 1395.5 1866.8 1395.6 1871.5 1395.7 C1876.2 1395.7 1881.0 1395.7 1885.7 1395.7 C1890.4 1395.7 1895.1 1395.7 1899.8 1395.6 C1904.5 1395.6 1909.3 1395.5 1914.0 1395.4 C1918.7 1395.3 1923.4 1395.2 1928.1 1395.1 C1932.9 1394.9 1937.6 1394.8 1942.3 1394.7 C1947.0 1394.6 1951.7 1394.5 1956.4 1394.4 C1961.2 1394.3 1965.9 1394.2 1970.6 1394.1 C1975.3 1394.0 1980.0 1393.9 1984.7 1393.9 C1989.4 1393.9 1994.1 1393.9 1998.8 1393.9 C2003.5 1393.9 2008.2 1394.0 2012.9 1394.1 C2017.6 1394.2 2024.7 1394.3 2027.0 1394.3" fill="none" stroke="#27965f" stroke-width="4.7" stroke-linejoin="round" opacity="0.96"/>
</g>
</svg>
</body></html>
